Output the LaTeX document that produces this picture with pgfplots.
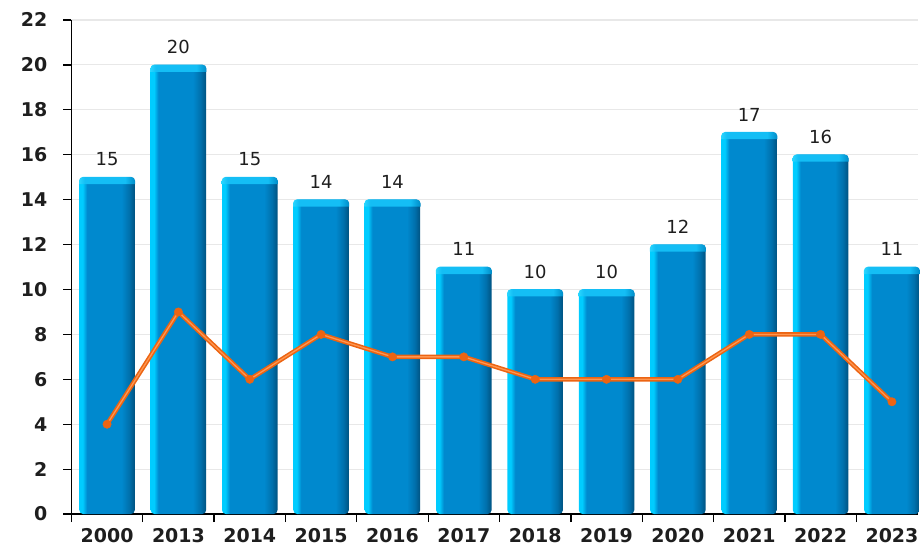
\documentclass[border=0pt]{standalone}
\usepackage{pgfplots}
\pgfplotsset{compat=1.18}
\usepackage{pgfplotstable}
\usepackage{fontspec}
\setmainfont{DejaVu Sans}
\definecolor{bl1}{RGB}{0,204,255}
\definecolor{bl2}{RGB}{0,137,206}
\definecolor{bl3}{RGB}{0,112,172}
\definecolor{bl4}{RGB}{0,82,128}
\definecolor{cap1}{RGB}{40,214,255}
\definecolor{cap2}{RGB}{20,190,245}
\definecolor{cap3}{RGB}{0,140,200}
\definecolor{lineor}{RGB}{236,100,18}
\definecolor{linehi}{RGB}{255,150,80}
\definecolor{gridc}{RGB}{232,232,232}
\definecolor{txt}{RGB}{30,30,30}
\pgfdeclarehorizontalshading{barshade}{100bp}{color(0bp)=(bl1); color(25bp)=(bl1); color(28bp)=(bl1); color(32bp)=(bl2); color(63bp)=(bl2); color(70bp)=(bl3); color(75bp)=(bl4); color(100bp)=(bl4)}
\pgfdeclarehorizontalshading{capshade}{100bp}{color(0bp)=(cap1); color(25bp)=(cap1); color(30bp)=(cap2); color(66bp)=(cap2); color(75bp)=(cap3); color(100bp)=(cap3)}
\pgfdeclareplotmark{barcap}{\path[draw=none, shade, shading=capshade] (-28.1pt,-7pt) -- (-28.1pt,-3.7pt) arc[start angle=180,end angle=90,radius=4pt] -- (24.1pt,0.3pt) arc[start angle=90,end angle=0,radius=4pt] -- (28.1pt,-7pt) -- cycle;}
\pgfplotstableread{
x bar line
0 15 4
1 20 9
2 15 6
3 14 8
4 14 7
5 11 7
6 10 6
7 10 6
8 12 6
9 17 8
10 16 8
11 11 5
}\data
\pgfplotsset{
  onebar/.style={ybar, bar width=55.6pt, bar shift=0pt, draw=none, shade, shading=barshade, rounded corners=4pt,
  nodes near coords,
  every node near coord/.append style={font=\fontsize{18}{18}\selectfont, text=txt, inner sep=0pt, yshift=11pt}},
}
\begin{document}
\begin{tikzpicture}
\path (0,0) rectangle (920pt,548pt);
\begin{axis}[
  at={(71.5pt,33pt)}, anchor=south west,
  x=71.48pt, y=22.5pt,
  xmin=-0.5, xmax=11.37, ymin=0, ymax=22,
  axis lines*=left,
  axis line style={black, line width=1.3pt},
  ytick={0,2,...,22},
  xtick={0,...,11},
  xticklabels={2000,2013,2014,2015,2016,2017,2018,2019,2020,2021,2022,2023},
  minor xtick={-0.5,0.5,...,10.5},
  major x tick style={draw=none},
  minor x tick style={black, line width=1.3pt},
  major y tick style={black, line width=1.3pt},
  tick align=outside,
  major tick length=8pt, minor tick length=8pt,
  ymajorgrids, grid style={gridc, line width=1.2pt},
  /pgf/number format/assume math mode=true,
  ticklabel style={font=\bfseries\fontsize{19}{19}\selectfont, text=txt, inner sep=0pt},
  yticklabel style={xshift=-16pt},
  xticklabel style={yshift=-6.5pt},
]
\addplot[onebar] coordinates {(0,15)};
\addplot[onebar] coordinates {(1,20)};
\addplot[onebar] coordinates {(2,15)};
\addplot[onebar] coordinates {(3,14)};
\addplot[onebar] coordinates {(4,14)};
\addplot[onebar] coordinates {(5,11)};
\addplot[onebar] coordinates {(6,10)};
\addplot[onebar] coordinates {(7,10)};
\addplot[onebar] coordinates {(8,12)};
\addplot[onebar] coordinates {(9,17)};
\addplot[onebar] coordinates {(10,16)};
\addplot[onebar] coordinates {(11,11)};
\addplot[only marks, mark=barcap, mark options={draw=none}] table[x=x,y=bar]{\data};
\addplot[lineor, line width=4.4pt, line join=round, mark=none] table[x=x,y=line]{\data};
\addplot[linehi, line width=1.3pt, line join=round, mark=none] table[x=x,y=line]{\data};
\addplot[only marks, mark=*, mark size=4.2pt, mark options={fill=lineor, draw=lineor}] table[x=x,y=line]{\data};
\end{axis}
\end{tikzpicture}
\end{document}
